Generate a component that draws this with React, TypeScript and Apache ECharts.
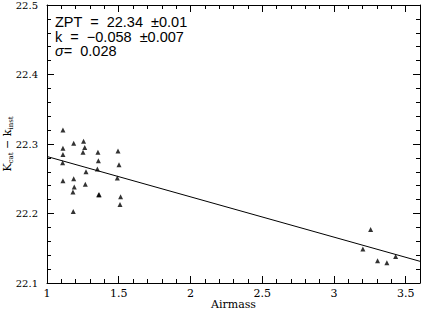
import React, { useEffect, useRef } from "react";
import * as echarts from "echarts";

// Observed points: [airmass, Kcat - kinst]
const airmass: number[] = [
  1.111, 1.186, 1.255, 1.111, 1.263, 1.111, 1.251, 1.355, 1.495, 1.358,
  1.109, 1.502, 1.351, 1.272, 1.49, 1.111, 1.186, 1.267, 1.19, 1.181,
  1.36, 1.364, 1.513, 1.509, 1.183,
  3.256, 3.202, 3.43, 3.304, 3.369,
];
const deltaK: number[] = [
  22.32, 22.301, 22.304, 22.294, 22.295, 22.285, 22.288, 22.288, 22.29, 22.276,
  22.273, 22.27, 22.264, 22.26, 22.251, 22.247, 22.25, 22.242, 22.238, 22.231,
  22.227, 22.227, 22.224, 22.213, 22.203,
  22.177, 22.149, 22.138, 22.132, 22.129,
];
// Fitted line end points
const fitX: number[] = [1, 3.6];
const fitY: number[] = [22.282, 22.1312];

const zptText = "ZPT  =  22.34  \u00b10.01";
const kText = "k  =  \u22120.058  \u00b10.007";
const sigmaText = "0.028";

const serif = "'DejaVu Serif', serif";
const sans = "'Liberation Sans', Arial, sans-serif";

export default function App() {
  const ref = useRef<HTMLDivElement>(null);
  useEffect(() => {
    if (!ref.current) return;
    const chart = echarts.init(ref.current, null, { renderer: "svg" });
    const line = { show: true, lineStyle: { color: "#000", width: 1 } };
    const baseX = { type: "value", min: 1, max: 3.6, splitLine: { show: false } };
    const baseY = { type: "value", min: 22.1, max: 22.5, interval: 0.1, splitLine: { show: false } };
    chart.setOption({
      animation: false,
      backgroundColor: "#fff",
      grid: { left: 47, top: 5, right: 1, bottom: 27, containLabel: false, outerBoundsMode: "none" },
      xAxis: [
        {
          ...baseX,
          position: "bottom",
          interval: 0.5,
          axisLine: line,
          axisTick: { show: true, inside: true, length: 7, lineStyle: { color: "#000" } },
          axisLabel: {
            color: "#000",
            fontFamily: serif,
            fontSize: 11,
            margin: 5,
            showMaxLabel: false,
            formatter: (v: number) => (Math.abs(v - 3.6) < 1e-6 ? "" : String(v)),
          },
          name: "Airmass",
          nameLocation: "middle",
          nameGap: 15,
          nameMoveOverlap: false,
          nameTextStyle: { color: "#000", fontFamily: serif, fontSize: 11, lineHeight: 13 },
        },
        {
          ...baseX,
          position: "bottom",
          interval: 0.1,
          axisLine: { show: false },
          axisTick: { show: true, inside: true, length: 4, lineStyle: { color: "#000" } },
          axisLabel: { show: false },
        },
        {
          ...baseX,
          position: "top",
          interval: 0.5,
          axisLine: line,
          axisTick: { show: true, inside: true, length: 7, lineStyle: { color: "#000" } },
          axisLabel: { show: false },
        },
        {
          ...baseX,
          position: "top",
          interval: 0.1,
          axisLine: { show: false },
          axisTick: { show: true, inside: true, length: 4, lineStyle: { color: "#000" } },
          axisLabel: { show: false },
        },
      ],
      yAxis: [
        {
          ...baseY,
          position: "left",
          axisLine: line,
          axisTick: { show: true, inside: true, length: 7, lineStyle: { color: "#000" } },
          minorTick: { show: true, splitNumber: 5, length: 4, lineStyle: { color: "#000" } },
          axisLabel: {
            color: "#000",
            fontFamily: serif,
            fontSize: 10,
            margin: 9,
            formatter: (v: number) => v.toFixed(1),
          },
          name: "{m|K}{s|cat}{m| \u2212 k}{s|inst}",
          nameLocation: "middle",
          nameRotate: 90,
          nameGap: 33,
          nameMoveOverlap: false,
          nameTextStyle: {
            color: "#000",
            fontFamily: serif,
            fontSize: 11,
            rich: {
              m: { fontFamily: serif, fontSize: 11, color: "#000", lineHeight: 14 },
              s: { fontFamily: serif, fontSize: 7, color: "#000", lineHeight: 14, verticalAlign: "bottom" },
            },
          },
        },
        {
          ...baseY,
          position: "right",
          axisLine: line,
          axisTick: { show: true, inside: true, length: 7, lineStyle: { color: "#000" } },
          minorTick: { show: true, splitNumber: 5, length: 4, lineStyle: { color: "#000" } },
          axisLabel: { show: false },
        },
      ],
      graphic: [
        {
          type: "text",
          x: 55,
          y: 15,
          style: {
            text: "{n|" + zptText + "}\n{n|" + kText + "}\n{i|\u03c3}{n|=  " + sigmaText + "}",
            verticalAlign: "top",
            align: "left",
            rich: {
              i: { font: `italic 14.5px ${sans}`, fill: "#000", lineHeight: 14.5 },
              n: { font: `14.5px ${sans}`, fill: "#000", lineHeight: 14.5 },
            },
          },
        },
      ],
      series: [
        {
          type: "scatter",
          xAxisIndex: 0,
          yAxisIndex: 0,
          symbol: "triangle",
          symbolSize: 5,
          itemStyle: { color: "#000" },
          data: airmass.map((x, i) => [x, deltaK[i]]),
        },
        {
          type: "line",
          xAxisIndex: 0,
          yAxisIndex: 0,
          symbol: "none",
          lineStyle: { color: "#000", width: 1 },
          data: fitX.map((x, i) => [x, fitY[i]]),
        },
      ],
    });
    return () => chart.dispose();
  }, []);
  return (
    <div
      ref={ref}
      style={{ position: "fixed", left: 0, top: 0, width: 421, height: 310, background: "#fff" }}
    />
  );
}
